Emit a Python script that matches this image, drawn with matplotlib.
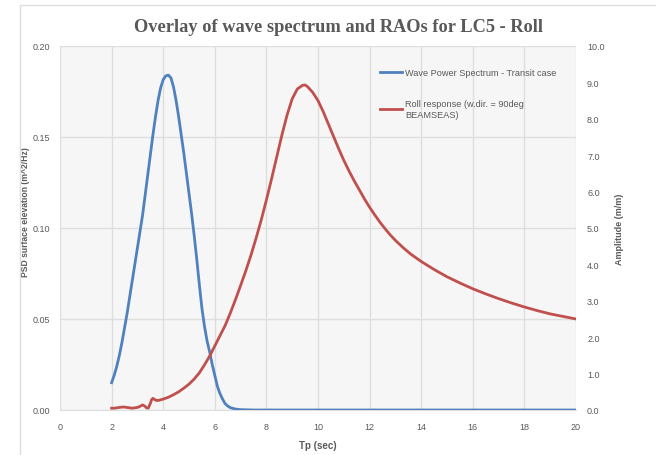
import matplotlib
matplotlib.use("Agg")
import matplotlib.pyplot as plt
from matplotlib.lines import Line2D
from matplotlib.patches import Rectangle
from matplotlib.ticker import FormatStrFormatter

# wave power spectrum (left axis, m^2/Hz)
tp_wave = [2.0, 2.1, 2.2, 2.3, 2.4, 2.5, 2.6, 2.7, 2.8, 2.9, 3.0, 3.1, 3.2, 3.3,
           3.4, 3.5, 3.6, 3.7, 3.8, 3.9, 4.0, 4.1, 4.2, 4.3, 4.4, 4.5, 4.6, 4.7,
           4.8, 4.9, 5.0, 5.1, 5.2, 5.3, 5.4, 5.5, 5.6, 5.7, 5.8, 5.9, 6.0, 6.1,
           6.2, 6.3, 6.4, 6.5, 6.6, 6.8, 7.0, 7.5, 8, 10, 12, 14, 16, 18, 20]
psd_wave = [0.015, 0.019, 0.024, 0.030, 0.037, 0.045, 0.053, 0.062, 0.071, 0.080,
            0.089, 0.098, 0.107, 0.118, 0.129, 0.140, 0.151, 0.161, 0.170, 0.177,
            0.1815, 0.1836, 0.184, 0.1825, 0.1775, 0.170, 0.161, 0.151, 0.141, 0.130,
            0.119, 0.108, 0.096, 0.083, 0.069, 0.056, 0.046, 0.038, 0.032, 0.025,
            0.019, 0.013, 0.009, 0.006, 0.0035, 0.0022, 0.0013, 0.0005, 0.0002,
            0, 0, 0, 0, 0, 0, 0, 0]

# roll RAO (right axis, m/m)
tp_roll = [2.0, 2.1, 2.2, 2.3, 2.4, 2.5, 2.6, 2.7, 2.8, 2.9, 3.0, 3.1, 3.2, 3.3,
           3.35, 3.42, 3.5, 3.55, 3.6, 3.65, 3.7, 3.8, 3.9, 4.0, 4.2, 4.4, 4.6,
           4.8, 5.0, 5.2, 5.4, 5.6, 5.8, 6.0, 6.2, 6.4, 6.6, 6.8, 7.0, 7.2, 7.4,
           7.6, 7.8, 8.0, 8.2, 8.4, 8.6, 8.8, 9.0, 9.2, 9.4, 9.5, 9.6, 9.8, 10.0,
           10.2, 10.4, 10.6, 10.8, 11.0, 11.2, 11.4, 11.6, 11.8, 12.0, 12.2, 12.4,
           12.6, 12.8, 13.0, 13.3, 13.6, 14.0, 14.5, 15, 15.5, 16, 16.5, 17,
           17.5, 18, 18.5, 19, 19.5, 20]
amp_roll = [0.05, 0.05, 0.06, 0.07, 0.08, 0.08, 0.07, 0.06, 0.05, 0.06, 0.07,
            0.10, 0.14, 0.10, 0.06, 0.05, 0.18, 0.28, 0.32, 0.30, 0.27, 0.26,
            0.28, 0.30, 0.35, 0.42, 0.50, 0.60, 0.71, 0.85, 1.02, 1.24, 1.48,
            1.76, 2.04, 2.32, 2.66, 3.03, 3.42, 3.82, 4.25, 4.72, 5.22, 5.77,
            6.35, 6.95, 7.55, 8.10, 8.55, 8.82, 8.92, 8.93, 8.88, 8.72, 8.50,
            8.20, 7.86, 7.52, 7.18, 6.86, 6.57, 6.30, 6.05, 5.80, 5.57, 5.36,
            5.16, 4.98, 4.81, 4.66, 4.46, 4.28, 4.08, 3.86, 3.66, 3.49, 3.33,
            3.19, 3.06, 2.94, 2.83, 2.73, 2.64, 2.57, 2.50]

blue = '#4f81bd'
red = '#c0504d'
grey = '#595959'
gridc = '#dedede'

plt.rcParams['font.family'] = ['Liberation Sans', 'DejaVu Sans']
plt.rcParams['hatch.color'] = '#e6e6e6'
plt.rcParams['hatch.linewidth'] = 0.4

fig = plt.figure(figsize=(6.56, 4.56), dpi=100)
ax = fig.add_axes([60/656, 1-411/456, (576-60)/656, (411-47)/456])

ax.set_facecolor('#f6f6f6')
ax.patch.set_hatch('\\\\\\\\\\\\')

ax.plot(tp_wave, psd_wave, color=blue, lw=2, zorder=3, solid_joinstyle='round')
ax.set_xlim(0, 20)
ax.set_ylim(0, 0.2)
ax.set_xticks(range(0, 21, 2))
ax.set_yticks([0, 0.05, 0.10, 0.15, 0.20])
ax.yaxis.set_major_formatter(FormatStrFormatter('%.2f'))
ax.grid(True, color=gridc, lw=1)
ax.set_axisbelow(True)
ax.tick_params(length=0, labelsize=6.5, colors=grey, pad=9)
ax.tick_params(axis='y', pad=7)
for s in ['top', 'left', 'right']:
    ax.spines[s].set_visible(False)
ax.spines['bottom'].set_color(gridc)
ax.set_xlabel('Tp (sec)', fontsize=7, fontweight='bold', color=grey, labelpad=6)
ax.set_ylabel('PSD surface elevation (m^2/Hz)', fontsize=6.2, fontweight='bold',
              color=grey)
ax.yaxis.set_label_coords(-0.058, 0.545)

ax2 = ax.twinx()
ax2.plot(tp_roll, amp_roll, color=red, lw=2, zorder=3, solid_joinstyle='round')
ax2.set_ylim(0, 10)
ax2.set_yticks(range(0, 11))
ax2.yaxis.set_major_formatter(FormatStrFormatter('%.1f'))
ax2.tick_params(length=0, labelsize=6.5, colors=grey, pad=8)
for s in ax2.spines.values():
    s.set_visible(False)
ax2.set_ylabel('Amplitude (m/m)', fontsize=6.5, fontweight='bold', color=grey)
ax2.yaxis.set_label_coords(1.076, 0.50)

handles = [Line2D([], [], color=blue, lw=2), Line2D([], [], color=red, lw=2)]
labels = ['Wave Power Spectrum - Transit case', 'Roll response (w.dir. = 90deg\nBEAMSEAS)']
fig.legend(handles, labels, loc='upper left', bbox_to_anchor=(372/656, 1-61/456),
           frameon=False, fontsize=6.6, handlelength=2.4, handletextpad=0.3,
           labelspacing=2.4, labelcolor=grey)

fig.text(339/656, 1-28/456, 'Overlay of wave spectrum and RAOs for LC5 - Roll',
         ha='center', va='center', fontsize=13.2, fontweight='bold', color=grey,
         family='Liberation Serif')

fig.patches.append(Rectangle((20/656, -0.1), 1.2, 1.1 - 6/456, transform=fig.transFigure,
                             fill=False, edgecolor=gridc, lw=1))

fig.savefig('out.png', dpi=100)
